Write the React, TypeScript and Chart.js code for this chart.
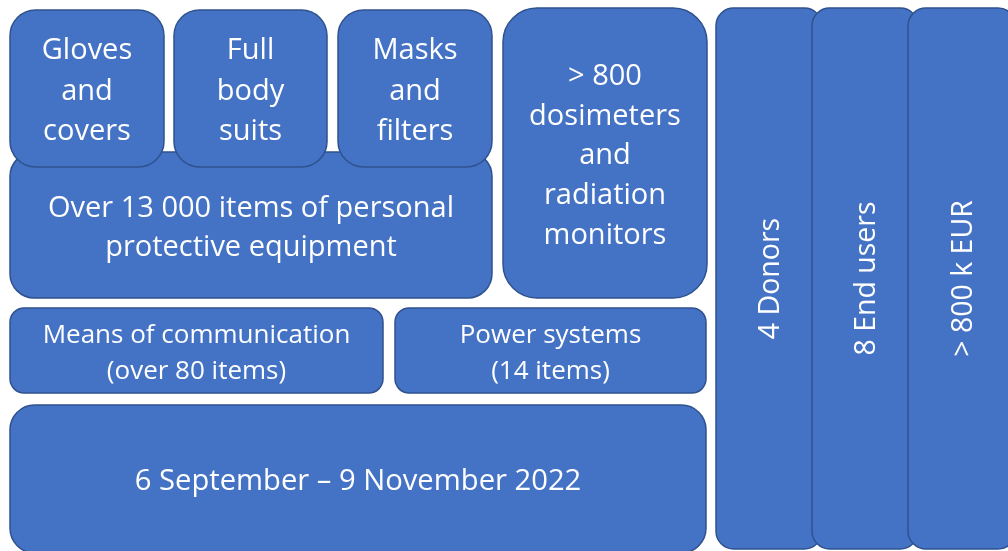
import React, { useEffect, useRef } from "react";
import { Chart, registerables } from "chart.js";

Chart.register(...registerables);

// Box labels, in drawing order (later boxes sit on top)
const boxLabels: string[] = [
  "Over 13 000 items of personal\nprotective equipment",
  "Gloves\nand\ncovers",
  "Full\nbody\nsuits",
  "Masks\nand\nfilters",
  "> 800\ndosimeters\nand\nradiation\nmonitors",
  "Means of communication\n(over 80 items)",
  "Power systems\n(14 items)",
  "6 September – 9 November 2022",
  "4 Donors",
  "8 End users",
  "> 800 k EUR",
];
// Box extents in the diagram's value space (x to the right, y downward)
const boxXStart: number[] = [10, 10, 174, 338, 503, 10, 395, 10, 716, 812, 908];
const boxXEnd: number[] = [492, 164, 327, 492, 707, 383, 706, 706, 822, 918, 1016];
const boxYTop: number[] = [152, 10, 10, 10, 8, 308, 308, 405, 8, 8, 8];
const boxYBottom: number[] = [298, 167, 167, 167, 298, 393, 393, 553, 549, 549, 549];
const boxVertical: boolean[] = [false, false, false, false, false, false, false, false, true, true, true];
const boxFontSize: number[] = [29, 29, 29, 29, 29, 26, 26, 29.2, 28.5, 28.5, 28.5];
const boxLineHeight: number[] = [39, 40.5, 40.5, 40.5, 39.7, 36, 36, 40, 40, 40, 40];

const FILL = "#4472C4";
const BORDER = "#2F528F";
const FONT = "'Open Sans', sans-serif";

const boxPlugin = {
  id: "roundedBoxes",
  afterDatasetsDraw(chart: any) {
    const ctx: CanvasRenderingContext2D = chart.ctx;
    chart.data.datasets.forEach((ds: any, i: number) => {
      const meta = chart.getDatasetMeta(i);
      const a = meta.data[0];
      const b = meta.data[1];
      const x0 = Math.min(a.x, b.x);
      const x1 = Math.max(a.x, b.x);
      const y0 = Math.min(a.y, b.y);
      const y1 = Math.max(a.y, b.y);
      const w = x1 - x0;
      const h = y1 - y0;
      const r = Math.min(w, h) * 0.1667;
      ctx.save();
      ctx.beginPath();
      ctx.roundRect(x0, y0, w, h, r);
      ctx.fillStyle = FILL;
      ctx.fill();
      ctx.lineWidth = 1.5;
      ctx.strokeStyle = BORDER;
      ctx.stroke();
      const lines = String(ds.label).split("\n");
      const fs = ds.fontSize as number;
      const lh = ds.lineHeight as number;
      ctx.fillStyle = "#ffffff";
      ctx.font = `${fs}px ${FONT}`;
      ctx.textAlign = "center";
      ctx.textBaseline = "middle";
      const cx = (x0 + x1) / 2;
      const cy = (y0 + y1) / 2;
      ctx.translate(cx, cy);
      if (ds.vertical) ctx.rotate(-Math.PI / 2);
      const shift = ds.vertical ? 2 : 3;
      lines.forEach((ln, k) => {
        const off = (k - (lines.length - 1) / 2) * lh;
        ctx.fillText(ln, 0, off + shift);
      });
      ctx.restore();
    });
  },
};

export default function App() {
  const ref = useRef<HTMLCanvasElement | null>(null);
  useEffect(() => {
    if (!ref.current) return;
    const datasets = boxLabels.map((label, i) => ({
      label,
      vertical: boxVertical[i],
      fontSize: boxFontSize[i],
      lineHeight: boxLineHeight[i],
      data: [
        { x: boxXStart[i], y: boxYTop[i] },
        { x: boxXEnd[i], y: boxYBottom[i] },
      ],
      pointRadius: 0,
      pointHoverRadius: 0,
      showLine: false,
    }));
    const chart = new Chart(ref.current, {
      type: "scatter",
      data: { datasets } as any,
      options: {
        animation: false,
        responsive: true,
        maintainAspectRatio: false,
        layout: { padding: 0 },
        plugins: { legend: { display: false }, tooltip: { enabled: false } },
        events: [],
        scales: {
          x: { type: "linear", min: 0, max: 1008, display: false },
          y: { type: "linear", min: 0, max: 551, reverse: true, display: false },
        },
      },
      plugins: [boxPlugin],
    });
    return () => chart.destroy();
  }, []);
  return (
    <div style={{ position: "fixed", left: 0, top: 0, width: 1008, height: 551, background: "#ffffff" }}>
      <canvas ref={ref} />
    </div>
  );
}
